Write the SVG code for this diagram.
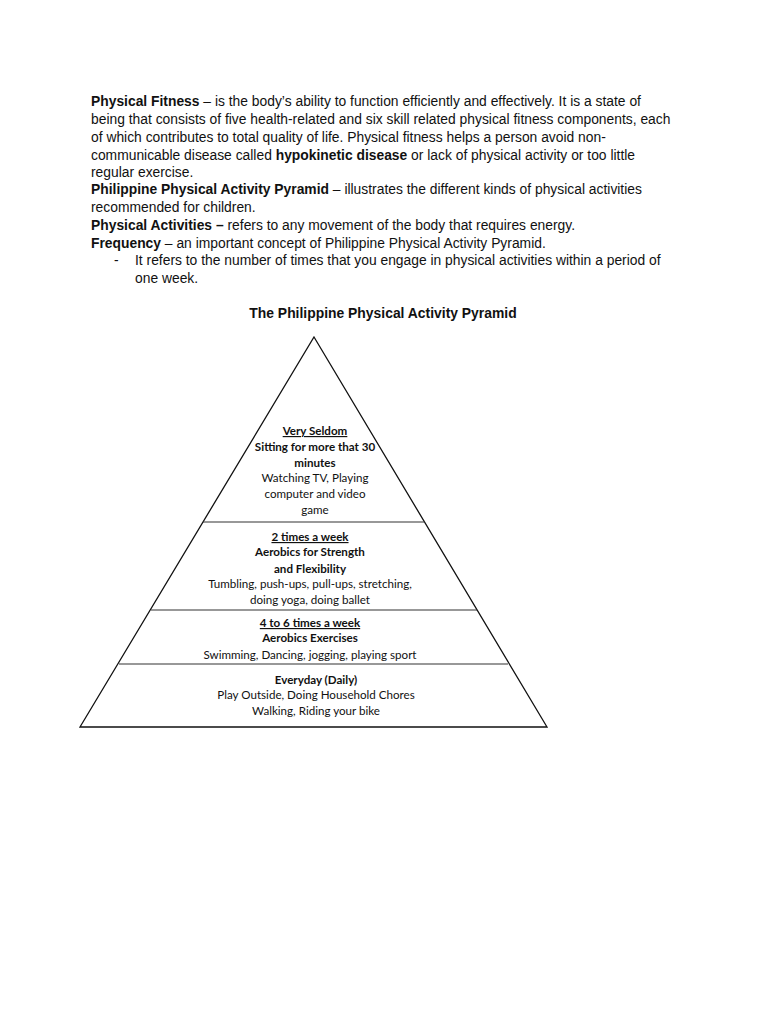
<svg xmlns="http://www.w3.org/2000/svg" width="768" height="1024" viewBox="0 0 768 1024">
<style>
.body{font-family:"Liberation Sans",Arial,sans-serif;font-size:13.85px;fill:#111}
.b{font-weight:bold}
.title{font-family:"Liberation Sans",Arial,sans-serif;font-size:13.9px;font-weight:bold;fill:#111;text-anchor:middle}
.p{font-family:Lato,"Open Sans",sans-serif;font-size:11.6px;fill:#111;text-anchor:middle}
.pb{font-weight:bold}
.u{text-decoration:underline}
.edge{fill:none;stroke:#111;stroke-width:1.3}
.sep{stroke:#333;stroke-width:1.2}
</style>
<rect width="768" height="1024" fill="#fff"/>
<g id="text-block">
<text class="body" x="91" y="106"><tspan class="b">Physical Fitness</tspan> – is the body’s ability to function efficiently and effectively. It is a state of</text>
<text class="body" x="91" y="124">being that consists of five health-related and six skill related physical fitness components, each</text>
<text class="body" x="91" y="142">of which contributes to total quality of life. Physical fitness helps a person avoid non-</text>
<text class="body" x="91" y="160">communicable disease called <tspan class="b">hypokinetic disease</tspan> or lack of physical activity or too little</text>
<text class="body" x="91" y="177">regular exercise.</text>
<text class="body" x="91" y="194"><tspan class="b">Philippine Physical Activity Pyramid</tspan> – illustrates the different kinds of physical activities</text>
<text class="body" x="91" y="212">recommended for children.</text>
<text class="body" x="91" y="230"><tspan class="b">Physical Activities –</tspan> refers to any movement of the body that requires energy.</text>
<text class="body" x="91" y="248"><tspan class="b">Frequency</tspan> – an important concept of Philippine Physical Activity Pyramid.</text>
<text class="body" x="114" y="265">-</text>
<text class="body" x="135" y="265">It refers to the number of times that you engage in physical activities within a period of</text>
<text class="body" x="135" y="283">one week.</text>
</g>
<text id="title" class="title" x="383" y="318">The Philippine Physical Activity Pyramid</text>
<g id="pyramid">
<polygon class="edge" points="314,337 547,727 80,727"/>
<line class="sep" x1="203" y1="522" x2="425" y2="522"/>
<line class="sep" x1="151" y1="610" x2="477" y2="610"/>
<line class="sep" x1="119" y1="664" x2="508" y2="664"/>
</g>
<g id="tier-very-seldom">
<text class="p pb u" x="315" y="435">Very Seldom</text>
<text class="p pb" x="315" y="451">Sitting for more that 30</text>
<text class="p pb" x="315" y="467">minutes</text>
<text class="p" x="315" y="482">Watching TV, Playing</text>
<text class="p" x="315" y="498">computer and video</text>
<text class="p" x="315" y="514">game</text>
</g>
<g id="tier-2-times">
<text class="p pb u" x="310" y="541">2 times a week</text>
<text class="p pb" x="310" y="556">Aerobics for Strength</text>
<text class="p pb" x="310" y="573">and Flexibility</text>
<text class="p" x="310" y="588">Tumbling, push-ups, pull-ups, stretching,</text>
<text class="p" x="310" y="604">doing yoga, doing ballet</text>
</g>
<g id="tier-4-6-times">
<text class="p pb u" x="310" y="627">4 to 6 times a week</text>
<text class="p pb" x="310" y="642">Aerobics Exercises</text>
<text class="p" x="310" y="659">Swimming, Dancing, jogging, playing sport</text>
</g>
<g id="tier-everyday">
<text class="p pb" x="316" y="684">Everyday (Daily)</text>
<text class="p" x="316" y="699">Play Outside, Doing Household Chores</text>
<text class="p" x="316" y="715">Walking, Riding your bike</text>
</g>
<g id="connectors"></g>
</svg>
